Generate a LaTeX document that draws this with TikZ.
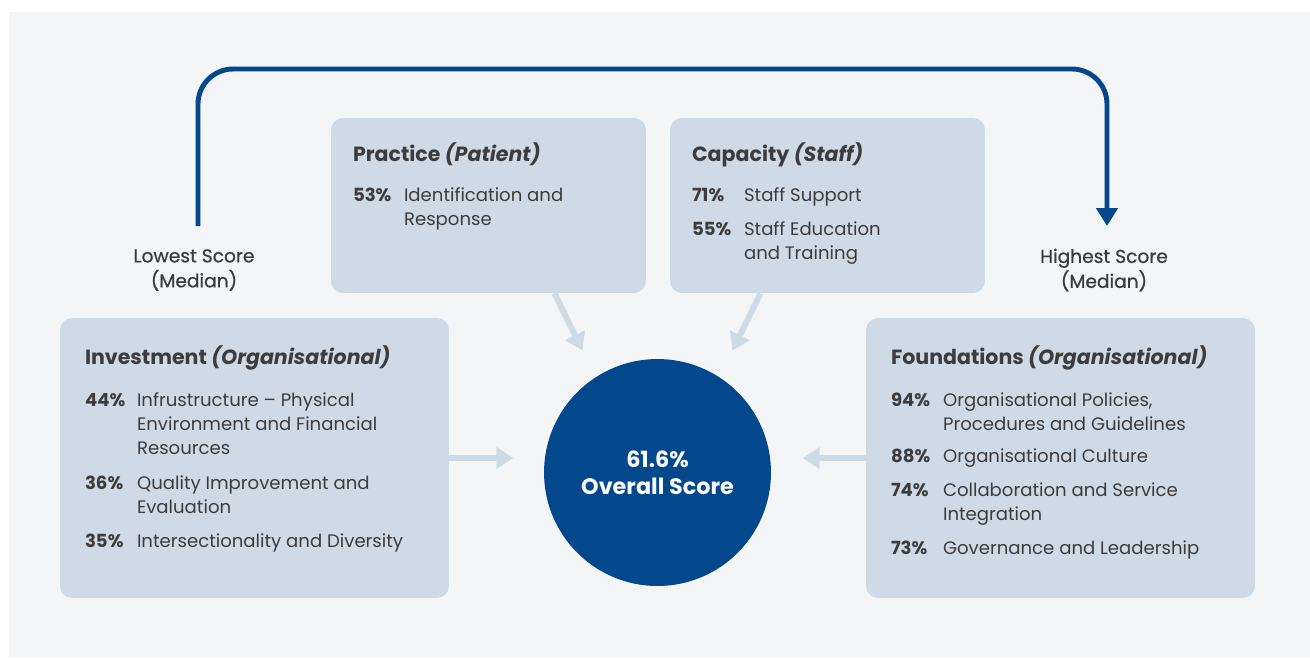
\documentclass[tikz,border=0pt]{standalone}
\usepackage{fontspec}
\setmainfont{Poppins}
\usetikzlibrary{calc,arrows.meta}

\definecolor{bgGrey}{HTML}{F4F5F7}
\definecolor{boxBlue}{HTML}{CFDAE7}
\definecolor{darkBlue}{HTML}{03478C}
\definecolor{textGrey}{HTML}{3C3C3C}

% lines of one item, baseline on the first line
\newcommand{\itemlines}[1]{\begin{tabular}[t]{@{}l@{}}#1\end{tabular}}

\begin{document}
\begin{tikzpicture}[x=0.02cm, y=-0.02cm, text=textGrey,
  font=\fontsize{10.3}{13.6}\selectfont,
  panel/.style={fill=boxBlue, rounded corners=0.24cm, inner sep=0pt},
  paneltitle/.style={anchor=base west, inner sep=0pt, font=\fontsize{11.7}{15}\selectfont\bfseries},
  pct/.style={anchor=base west, inner sep=0pt, font=\fontsize{10.3}{13.6}\selectfont\bfseries},
  item/.style={anchor=base west, inner sep=0pt},
  scorelabel/.style={align=center, inner sep=0pt,
    font=\fontsize{10.6}{14.2}\selectfont\addfontfeatures{FakeBold=0.7}},
  scoreline/.style={draw=darkBlue, line width=2.8pt, rounded corners=0.7cm,
    -{Triangle[width=0.42cm, length=0.36cm]}},
  softarrow/.style={draw=boxBlue, line width=3.4pt,
    -{Triangle[width=0.42cm, length=0.34cm]}}]

  % Canvas
  \useasboundingbox (0,0) rectangle (1310,657);
  \fill[bgGrey] (9,12) rectangle (1310,657);

  % Panels
  \node[panel, minimum width=6.3cm, minimum height=3.5cm] (practice) at (488.5,205.5) {};
  \node[panel, minimum width=6.3cm, minimum height=3.5cm] (capacity) at (827.5,205.5) {};
  \node[panel, minimum width=7.78cm, minimum height=5.6cm] (investment) at (254.5,458) {};
  \node[panel, minimum width=7.78cm, minimum height=5.6cm] (foundations) at (1060.5,458) {};

  % Overall score
  \node[circle, fill=darkBlue, minimum size=4.54cm, inner sep=0pt, text=white, align=center,
    font=\fontsize{12.7}{15.3}\selectfont\bfseries] (overall) at (657.5,472.5)
    {61.6\%\\Overall Score};

  % Practice
  \node[paneltitle] (practice-title) at ($(practice.north west)+(22,44)$)
    {Practice {\itshape(Patient)}};
  \node[pct] (practice-p1) at ($(practice.north west)+(22,84)$) {53\%};
  \node[item] (practice-t1) at ($(practice.north west)+(73,84)$)
    {\itemlines{Identification and\\Response}};

  % Capacity
  \node[paneltitle] (capacity-title) at ($(capacity.north west)+(22,44)$)
    {Capacity {\itshape(Staff)}};
  \node[pct] (capacity-p1) at ($(capacity.north west)+(22,84)$) {71\%};
  \node[item] (capacity-t1) at ($(capacity.north west)+(74,84)$) {Staff Support};
  \node[pct] (capacity-p2) at ($(capacity.north west)+(22,118)$) {55\%};
  \node[item] (capacity-t2) at ($(capacity.north west)+(74,118)$)
    {\itemlines{Staff Education\\and Training}};

  % Investment
  \node[paneltitle] (investment-title) at ($(investment.north west)+(25,47)$)
    {Investment {\itshape(Organisational)}};
  \node[pct] (investment-p1) at ($(investment.north west)+(25,89)$) {44\%};
  \node[item] (investment-t1) at ($(investment.north west)+(77,89)$)
    {\itemlines{Infrustructure – Physical\\Environment and Financial\\Resources}};
  \node[pct] (investment-p2) at ($(investment.north west)+(25,172)$) {36\%};
  \node[item] (investment-t2) at ($(investment.north west)+(77,172)$)
    {\itemlines{Quality Improvement and\\Evaluation}};
  \node[pct] (investment-p3) at ($(investment.north west)+(25,230)$) {35\%};
  \node[item] (investment-t3) at ($(investment.north west)+(77,230)$)
    {Intersectionality and Diversity};

  % Foundations
  \node[paneltitle] (foundations-title) at ($(foundations.north west)+(25,47)$)
    {Foundations {\itshape(Organisational)}};
  \node[pct] (foundations-p1) at ($(foundations.north west)+(25,89)$) {94\%};
  \node[item] (foundations-t1) at ($(foundations.north west)+(77,89)$)
    {\itemlines{Organisational Policies,\\Procedures and Guidelines}};
  \node[pct] (foundations-p2) at ($(foundations.north west)+(25,145)$) {88\%};
  \node[item] (foundations-t2) at ($(foundations.north west)+(77,145)$)
    {Organisational Culture};
  \node[pct] (foundations-p3) at ($(foundations.north west)+(25,179)$) {74\%};
  \node[item] (foundations-t3) at ($(foundations.north west)+(77,179)$)
    {\itemlines{Collaboration and Service\\Integration}};
  \node[pct] (foundations-p4) at ($(foundations.north west)+(25,237)$) {73\%};
  \node[item] (foundations-t4) at ($(foundations.north west)+(77,237)$)
    {Governance and Leadership};

  % Lowest / highest labels and the bracket between them
  \node[scorelabel] (lowest) at (194,270) {Lowest Score\\(Median)};
  \node[scorelabel] (highest) at (1104,270) {Highest Score\\(Median)};
  \coordinate (lowend) at (198,226);
  \coordinate (highend) at (1107,226);
  \draw[scoreline] (lowend) |- (highend |- 0,69) -- (highend);

  % Panels feeding the overall score
  \draw[softarrow] ($(practice.south)+(66,0)$) -- ($(overall.center)+(-75,-122)$);
  \draw[softarrow] ($(capacity.south)+(-67,0)$) -- ($(overall.center)+(75,-122)$);
  \draw[softarrow] (investment.east) -- ++(64,0);
  \draw[softarrow] (foundations.west) -- ++(-63,0);

\end{tikzpicture}
\end{document}
